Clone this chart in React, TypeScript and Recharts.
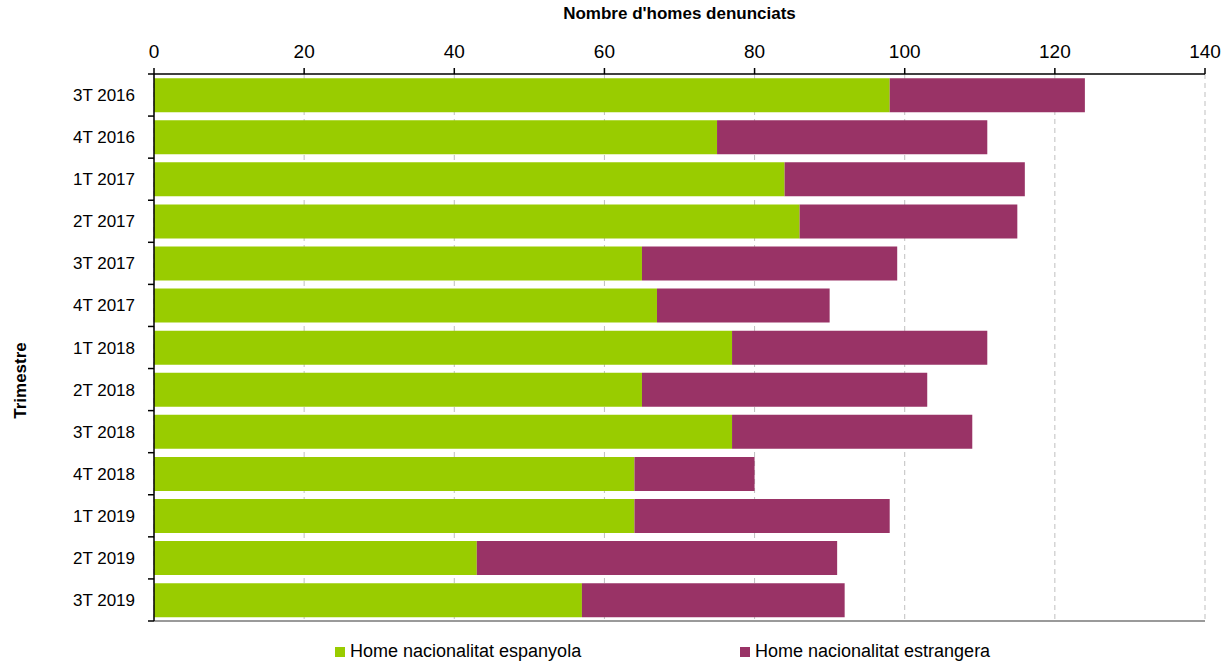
import { BarChart, Bar, XAxis, YAxis, CartesianGrid, Legend } from 'recharts';

const quarters = [
  '3T 2016', '4T 2016', '1T 2017', '2T 2017', '3T 2017', '4T 2017', '1T 2018',
  '2T 2018', '3T 2018', '4T 2018', '1T 2019', '2T 2019', '3T 2019',
];
const spanish = [98, 75, 84, 86, 65, 67, 77, 65, 77, 64, 64, 43, 57];
const foreign = [26, 36, 32, 29, 34, 23, 34, 38, 32, 16, 34, 48, 35];
const xTicks = [0, 20, 40, 60, 80, 100, 120, 140];

const seriesNames = ['Home nacionalitat espanyola', 'Home nacionalitat estrangera'];

const colors = {
  green: '#99cc00',
  purple: '#993366',
  grid: '#bfbfbf',
  frame: '#9a9a9a',
};

const FONT = '"Liberation Sans Narrow", "Arial Narrow", "Liberation Sans", Arial, sans-serif';
const W = 1221;
const H = 662;
const PLOT_TOP = 74;
const PLOT_BOTTOM = 621;
const HALF_BAND = (PLOT_BOTTOM - PLOT_TOP) / quarters.length / 2;

const data = quarters.map((q, i) => ({ q, spanish: spanish[i], foreign: foreign[i] }));

// category label plus a tick mark on the band boundary (like the original)
function QuarterTick(props: any) {
  const { x, y, payload, index } = props;
  const last = index === quarters.length - 1;
  return (
    <g>
      <text x={x - 19} y={y} dy={6} textAnchor="end" fontSize={17} fill="#000" fontFamily={FONT}>
        {payload.value}
      </text>
      <line x1={x - 6} x2={x} y1={y - HALF_BAND} y2={y - HALF_BAND} stroke="#000" strokeWidth={1.5} />
      {last && <line x1={x - 6} x2={x} y1={y + HALF_BAND} y2={y + HALF_BAND} stroke="#000" strokeWidth={1.5} />}
    </g>
  );
}

function LegendContent() {
  const items = [
    { name: seriesNames[0], color: colors.green, left: 335 },
    { name: seriesNames[1], color: colors.purple, left: 740 },
  ];
  return (
    <div style={{ position: 'relative', height: 26, width: W, fontFamily: FONT, fontSize: 18 }}>
      {items.map((it) => (
        <div key={it.name} style={{ position: 'absolute', left: it.left, top: 19, display: 'flex', alignItems: 'center', whiteSpace: 'nowrap' }}>
          <span style={{ width: 10, height: 10, background: it.color, display: 'inline-block', marginRight: 5 }} />
          <span style={{ color: '#000' }}>{it.name}</span>
        </div>
      ))}
    </div>
  );
}

export default function App() {
  return (
    <div style={{ position: 'absolute', left: 0, top: 0, width: W, height: H, background: '#fff', overflow: 'hidden' }}>
      <BarChart
        width={W}
        height={H}
        data={data}
        layout="vertical"
        barCategoryGap="10%"
        margin={{ top: 0, right: 16, left: 0, bottom: 14 }}
      >
        <CartesianGrid horizontal={false} stroke={colors.grid} strokeDasharray="5 4" />
        <XAxis
          type="number"
          orientation="top"
          domain={[0, 140]}
          ticks={xTicks}
          height={74}
          tickSize={6}
          tickMargin={10}
          axisLine={{ stroke: '#000', strokeWidth: 1.5 }}
          tickLine={{ stroke: '#000', strokeWidth: 1.5 }}
          tick={{ fontSize: 19, fill: '#000', fontFamily: FONT }}
          label={{
            value: "Nombre d'homes denunciats",
            position: 'insideTop',
            offset: 7,
            fontSize: 17,
            fontWeight: 'bold',
            fill: '#000',
            fontFamily: FONT,
          }}
        />
        <XAxis
          xAxisId="frame"
          type="number"
          orientation="bottom"
          domain={[0, 140]}
          height={1}
          tick={false}
          tickLine={false}
          axisLine={{ stroke: colors.frame, strokeWidth: 2 }}
        />
        <YAxis
          type="category"
          dataKey="q"
          width={154}
          tickSize={0}
          tickMargin={0}
          tickLine={false}
          interval={0}
          axisLine={{ stroke: '#000', strokeWidth: 1.5 }}
          tick={<QuarterTick />}
          label={({ viewBox }: any) => (
            <text
              x={20}
              y={viewBox.y + viewBox.height / 2 + 33}
              transform={`rotate(-90 20 ${viewBox.y + viewBox.height / 2 + 33})`}
              textAnchor="middle"
              dominantBaseline="central"
              fontSize={17}
              fontWeight="bold"
              fontFamily={FONT}
              fill="#000"
            >
              Trimestre
            </text>
          )}
        />
        <YAxis
          yAxisId="frame"
          type="category"
          dataKey="q"
          orientation="right"
          width={0}
          tick={false}
          tickLine={false}
          axisLine={{ stroke: colors.frame, strokeWidth: 1.5 }}
        />
        <Legend verticalAlign="bottom" content={<LegendContent />} wrapperStyle={{ left: 0, width: W }} />
        <Bar dataKey="spanish" name={seriesNames[0]} stackId="a" fill={colors.green} isAnimationActive={false} />
        <Bar dataKey="foreign" name={seriesNames[1]} stackId="a" fill={colors.purple} isAnimationActive={false} />
      </BarChart>
    </div>
  );
}
